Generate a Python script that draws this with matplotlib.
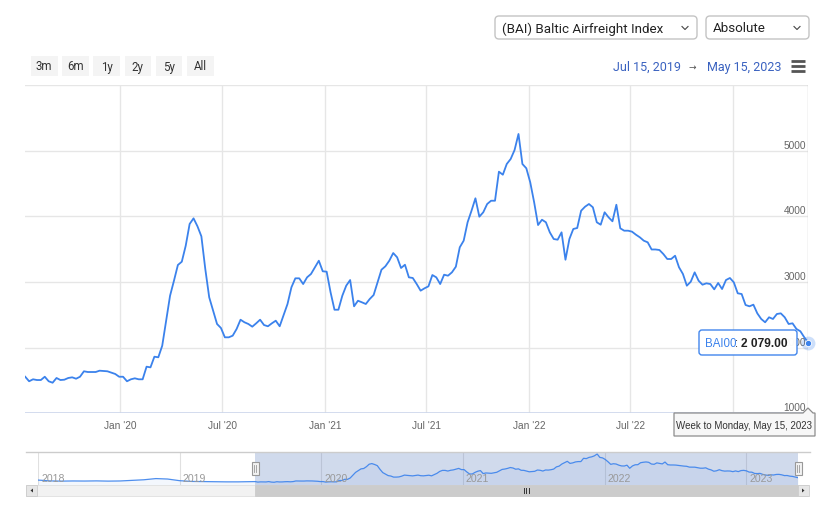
import matplotlib
matplotlib.use("Agg")
import matplotlib.pyplot as plt
import matplotlib.font_manager as fm
from matplotlib.patches import FancyBboxPatch, Rectangle, Polygon
import pandas as pd

# Weekly index values (Monday weeks)
bai_values = [
    1558, 1489, 1519, 1508, 1508, 1558, 1489, 1467, 1539, 1508,
    1513, 1539, 1549, 1528, 1558, 1641, 1630, 1630, 1630, 1650,
    1645, 1641, 1620, 1600, 1558, 1558, 1489, 1519, 1534, 1519,
    1519, 1711, 1701, 1863, 1854, 2030, 2411, 2791, 3020, 3259,
    3309, 3552, 3883, 3969, 3848, 3695, 3198, 2767, 2563, 2361,
    2300, 2158, 2158, 2183, 2285, 2426, 2387, 2361, 2320, 2371,
    2426, 2345, 2326, 2371, 2411, 2326, 2498, 2665, 2919, 3056,
    3056, 2969, 3071, 3122, 3224, 3324, 3163, 3157, 2843, 2578,
    2578, 2791, 2944, 3030, 2630, 2715, 2691, 2665, 2741, 2802,
    2995, 3187, 3239, 3324, 3441, 3376, 3213, 3263, 3071, 3061,
    2969, 2868, 2904, 2934, 3106, 3071, 2969, 3111, 3096, 3147,
    3233, 3528, 3629, 3909, 4085, 4274, 3994, 4061, 4187, 4237,
    4237, 4679, 4633, 4796, 4872, 5009, 5253, 4796, 4731, 4517,
    4213, 3867, 3948, 3909, 3756, 3654, 3644, 3756, 3339, 3654,
    3807, 3822, 4085, 4146, 4187, 4137, 3909, 3872, 4061, 3985,
    3924, 4176, 3817, 3781, 3781, 3766, 3720, 3680, 3629, 3604,
    3495, 3495, 3487, 3426, 3350, 3350, 3400, 3224, 3122, 2944,
    3004, 3147, 3020, 2959, 2980, 2969, 2888, 2985, 2893, 3030,
    3061, 2995, 2828, 2817, 2650, 2630, 2655, 2523, 2437, 2387,
    2463, 2437, 2513, 2523, 2463, 2361, 2371, 2285, 2250, 2158,
    2079,
]
bai_dates = pd.date_range("2019-07-15", periods=len(bai_values), freq="7D")

# Earlier history shown only in the navigator (monthly readings)
early_dates = pd.date_range("2018-01-01", periods=18, freq="MS")
early_values = [1760, 1650, 1620, 1640, 1630, 1650, 1620, 1640, 1720,
                1800, 1960, 1900, 1680, 1580, 1560, 1550, 1520, 1520]

y_ticks = [1000, 2000, 3000, 4000, 5000]
x_grid = pd.to_datetime(["2020-01-01", "2020-07-01", "2021-01-01", "2021-07-01",
                         "2022-01-01", "2022-07-01", "2023-01-01"])
# the Jan '23 label sits under the date tooltip, so it is not drawn
x_labels = ["Jan '20", "Jul '20", "Jan '21", "Jul '21", "Jan '22", "Jul '22", None]
nav_years = pd.to_datetime(["2018-01-01", "2019-01-01", "2020-01-01",
                            "2021-01-01", "2022-01-01", "2023-01-01"])
range_buttons = ["3m", "6m", "1y", "2y", "5y", "All"]

LINE = "#3b82ec"
GRID = "#e6e6e6"
LABEL = "#666666"

names = {f.name for f in fm.fontManager.ttflist}
narrow = "Liberation Sans Narrow" if "Liberation Sans Narrow" in names else "Roboto"
plt.rcParams["font.family"] = ["Liberation Sans", "DejaVu Sans"]

W, H = 832, 510
fig = plt.figure(figsize=(W / 100, H / 100), dpi=100)


def box(x0, y0, x1, y1):
    return [x0 / W, 1 - y1 / H, (x1 - x0) / W, (y1 - y0) / H]


# ---- main chart ----
ax = fig.add_axes(box(25.2, 85.9, 808.2, 414.4))
ax.plot(bai_dates, bai_values, color=LINE, lw=1.3, zorder=3, solid_joinstyle="round")
ax.set_xlim(bai_dates[0], bai_dates[-1])
ax.set_ylim(1000, 6000)
for v in [2000, 3000, 4000, 5000, 6000]:
    ax.axhline(v, color=GRID, lw=1, zorder=1)
ax.axhline(1000, color="#ccd6eb", lw=1.2, zorder=2)
for d in x_grid:
    ax.axvline(d, color=GRID, lw=1, zorder=1)
ax.axvline(bai_dates[-1], color="#cccccc", lw=1, zorder=2)
for spine in ax.spines.values():
    spine.set_visible(False)
ax.set_xticks([])
ax.set_yticks([])
for d, lbl in zip(x_grid, x_labels):
    if lbl is None:
        continue
    ax.annotate(lbl, xy=(d, 0), xycoords=("data", "axes fraction"),
                xytext=(0, -12), textcoords="offset pixels",
                ha="center", va="center", fontsize=7.3, color=LABEL)
for v in y_ticks:
    ax.annotate(str(v), xy=(1, v), xycoords=("axes fraction", "data"),
                xytext=(-2, 1), textcoords="offset pixels",
                ha="right", va="bottom", fontsize=7.3, color=LABEL)
# hovered last point
ax.plot(bai_dates[-1], bai_values[-1], "o", ms=10, color=LINE, alpha=0.25,
        mec="none", zorder=4, clip_on=False)
ax.plot(bai_dates[-1], bai_values[-1], "o", ms=4.5, color=LINE, mec="white",
        mew=0.6, zorder=5, clip_on=False)

# ---- navigator ----
nav = fig.add_axes(box(38, 453, 798, 486))
nav_dates = list(early_dates) + list(bai_dates)
nav_vals = early_values + bai_values
nav.fill_between(nav_dates, nav_vals, 0, color=LINE, alpha=0.06, lw=0)
nav.plot(nav_dates, nav_vals, color=LINE, lw=0.9, alpha=0.9)
nav.set_xlim(pd.Timestamp("2018-01-01"), bai_dates[-1])
nav.set_ylim(1100, 5520)
nav.axvspan(bai_dates[0], bai_dates[-1], color=(102 / 255, 133 / 255, 194 / 255, 0.3), lw=0)
for d in nav_years:
    nav.axvline(d, color="#e0e0e0", lw=0.8, zorder=0)
    nav.annotate(str(d.year), xy=(d, 0), xycoords=("data", "axes fraction"),
                 xytext=(3, 7), textcoords="offset pixels",
                 ha="left", va="center", fontsize=7.6, color="#999999")
for spine in nav.spines.values():
    spine.set_visible(False)
nav.set_xticks([])
nav.set_yticks([])

# ---- overlay for widgets (pixel coordinates) ----
ov = fig.add_axes([0, 0, 1, 1], zorder=10)
ov.set_xlim(0, W)
ov.set_ylim(H, 0)
ov.axis("off")
ov.patch.set_alpha(0)

# dropdowns
for x0, x1, txt in [(495, 697, "(BAI) Baltic Airfreight Index"), (706, 809, "Absolute")]:
    ov.add_patch(FancyBboxPatch((x0, 17), x1 - x0, 23, boxstyle="round,pad=0,rounding_size=4",
                                fc="white", ec="#c4c4c4", lw=1))
    ov.text(x0 + 7, 29, txt, family=narrow, fontsize=9.6, color="#222222", va="center")
    cx = x1 - 12
    ov.plot([cx - 3, cx, cx + 3], [27.5, 30.5, 27.5], color="#444444", lw=0.8)

# range selector buttons
bx = 31
for lbl in range_buttons:
    ov.add_patch(Rectangle((bx, 57), 26.5, 19.5, fc="#f4f4f4", ec="none"))
    ov.text(bx + 13.2, 67, lbl, family=narrow, fontsize=8.3, color="#333333",
            ha="center", va="center")
    bx += 31.2

# date range
ov.text(681, 67, "Jul 15, 2019", family=narrow, fontsize=9, color="#3a62c0",
        ha="right", va="center")
ov.text(692, 67, "\u2192", fontsize=6.5, color="#555555", ha="center", va="center",
        family="DejaVu Sans")
ov.text(707, 67, "May 15, 2023", family=narrow, fontsize=9, color="#3a62c0",
        ha="left", va="center")
for yy in (61.5, 66.5, 71.5):
    ov.plot([791, 805], [yy, yy], color="#555555", lw=2, solid_capstyle="butt")

# value tooltip
ov.add_patch(FancyBboxPatch((699, 331), 98, 25, boxstyle="round,pad=0,rounding_size=3",
                            fc="white", ec=LINE, lw=1, alpha=0.97))
ov.text(705, 344, "BAI00", color=LINE, fontsize=8.3, va="center", ha="left")
ov.text(735.5, 344, ":", color="#333333", fontsize=8.3, va="center", ha="left")
ov.text(741, 344, "2 079.00", color="#222222", fontsize=8.6, va="center",
        ha="left", weight="bold")

# date tooltip
ov.add_patch(Polygon([(674, 414), (803, 414), (808, 409), (813, 414), (815, 414),
                      (815, 437), (674, 437)], closed=True, fc="#f7f7f7", ec="#8c8c8c", lw=0.9))
ov.text(744.5, 426.5, "Week to Monday, May 15, 2023", fontsize=7.0, color="#333333",
        ha="center", va="center")

# navigator outline and handles
ov.plot([26, 810], [453, 453], color="#cccccc", lw=1)
for hx in (255, 798):
    ov.add_patch(Rectangle((hx - 3.5, 462.5), 7, 13, fc="#f2f2f2", ec="#999999", lw=0.8))
    ov.plot([hx - 1, hx - 1], [465.5, 472.5], color="#999999", lw=0.6)
    ov.plot([hx + 1, hx + 1], [465.5, 472.5], color="#999999", lw=0.6)

# scrollbar
ov.add_patch(Rectangle((26, 486), 782, 11, fc="#f2f2f2", ec="#e0e0e0", lw=0.6))
ov.add_patch(Rectangle((255, 486), 543, 11, fc="#cccccc", ec="#cccccc", lw=0.6))
for gx in (523.5, 526, 528.5):
    ov.plot([gx, gx], [489, 494], color="#333333", lw=0.7)
for x0, arrow in [(26, [(33, 489.5), (33, 493.5), (30.5, 491.5)]),
                  (798, [(802, 489.5), (802, 493.5), (804.5, 491.5)])]:
    ov.add_patch(Rectangle((x0, 486), 11, 11, fc="#e6e6e6", ec="#cccccc", lw=0.6))
    ov.add_patch(Polygon(arrow, closed=True, fc="#333333", ec="none"))

fig.savefig("out.png", dpi=100, facecolor="white")
